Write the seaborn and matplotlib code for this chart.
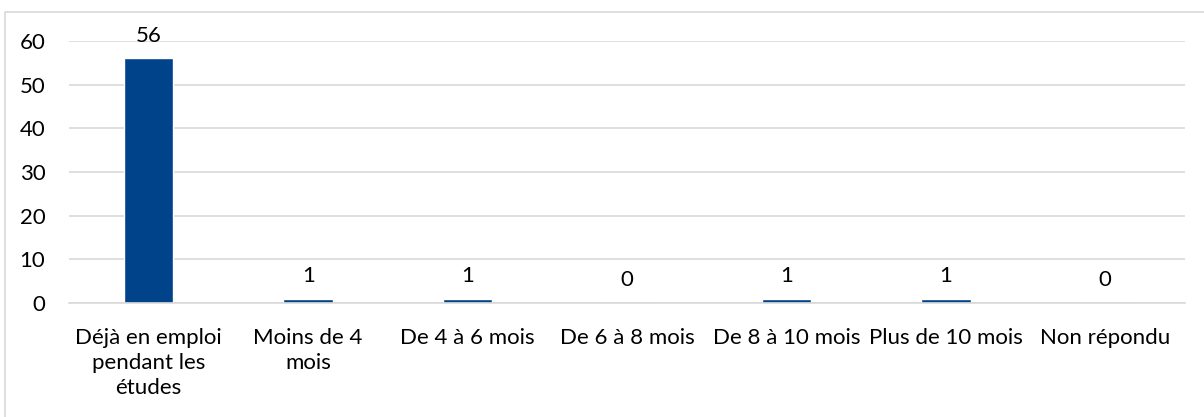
import matplotlib
matplotlib.use("Agg")
import matplotlib.pyplot as plt
import seaborn as sns
import pandas as pd
from matplotlib.patches import Rectangle

categories = ["Déjà en emploi\npendant les\nétudes", "Moins de 4\nmois", "De 4 à 6 mois",
              "De 6 à 8 mois", "De 8 à 10 mois", "Plus de 10 mois", "Non répondu"]
values = [56, 1, 1, 0, 1, 1, 0]
yticks = [0, 10, 20, 30, 40, 50, 60]

sns.set_theme(style="white")
plt.rcParams['font.family'] = ['Lato', 'DejaVu Sans']

df = pd.DataFrame({"cat": categories, "val": values})

fig = plt.figure(figsize=(12.04, 4.17), dpi=100)
ax = fig.add_axes([69/1204, 1-303/417, (1185-69)/1204, (303-41)/417])
sns.barplot(data=df, x="cat", y="val", color="#00438A", width=0.31, saturation=1, ax=ax)

fs = 16
ax.set_ylim(0, 60)
ax.set_yticks(yticks)
ax.set_xlim(-0.5, len(categories)-0.5)
ax.yaxis.grid(True, color="#d9d9d9", lw=1.2)
ax.set_axisbelow(True)
for s in ["top", "right", "left"]:
    ax.spines[s].set_visible(False)
ax.spines["bottom"].set_color("#d9d9d9")
ax.spines["bottom"].set_linewidth(1.2)
ax.tick_params(axis="both", length=0, labelsize=fs, colors="#000000")
ax.tick_params(axis="x", pad=18)
ax.tick_params(axis="y", pad=17)
ax.set_xlabel("")
ax.set_ylabel("")
for lab in ax.get_xticklabels():
    lab.set_linespacing(1.32)
    lab.set_verticalalignment("top")

for i, v in enumerate(values):
    ax.annotate(str(v), (i, v), xytext=(0, 9), textcoords="offset points",
                ha="center", va="bottom", fontsize=fs, color="#000000")

fig.patches.append(Rectangle((5/1204, -0.01), 1.02, 1-12/417+0.01, transform=fig.transFigure,
                             fill=False, edgecolor="#d9d9d9", lw=1.2))

fig.savefig("out.png", dpi=100, facecolor="white")
